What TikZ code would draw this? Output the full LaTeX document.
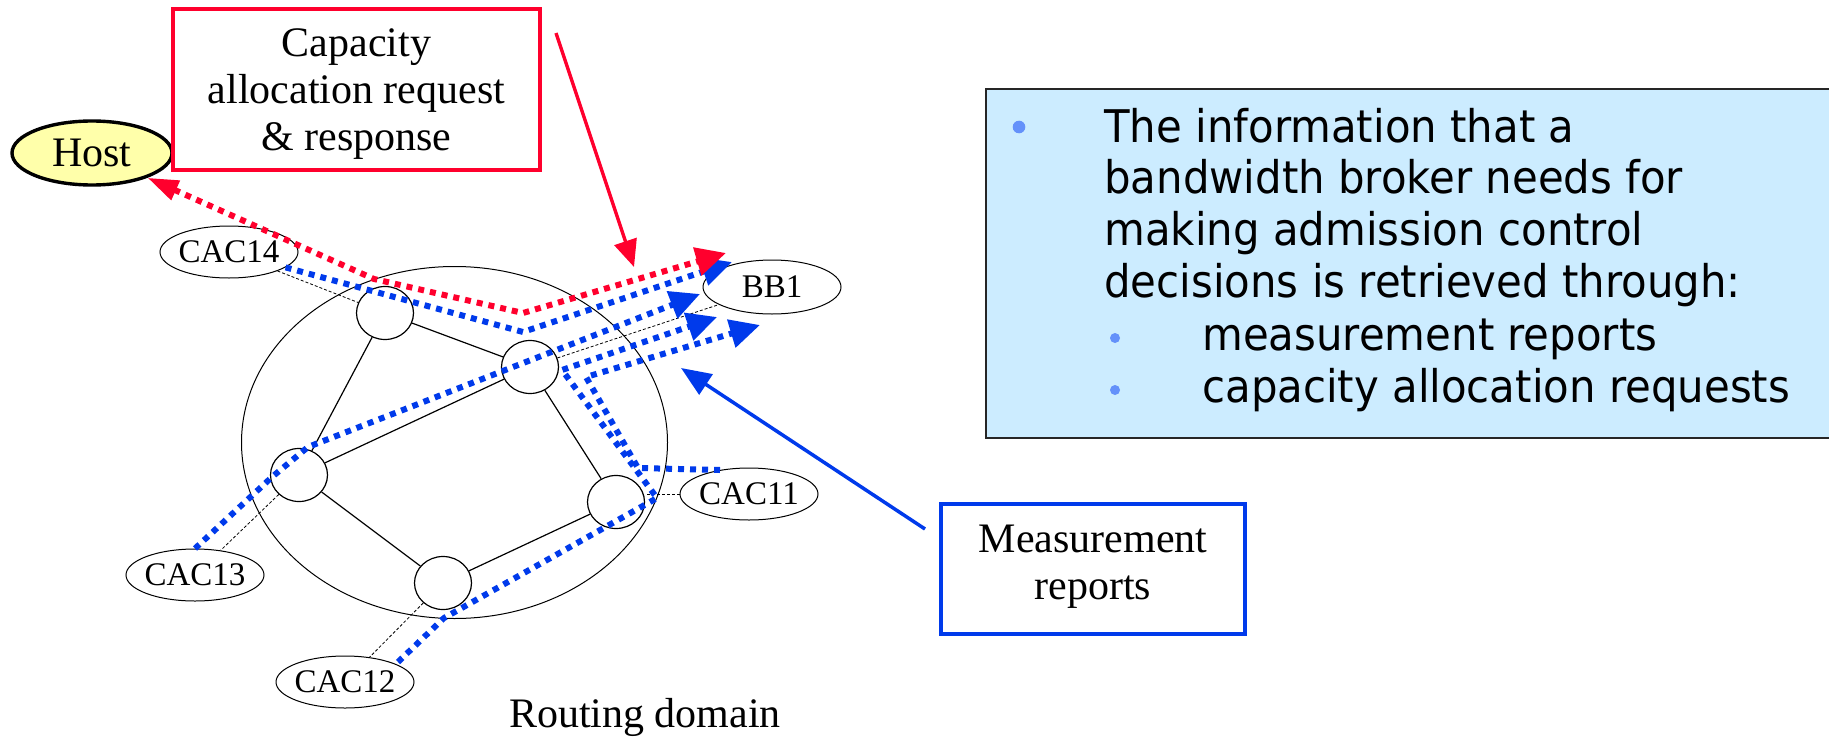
\documentclass[tikz,border=0pt]{standalone}
\usepackage{fontspec}
\setmainfont{Liberation Serif}
\newfontfamily\boxfont[FakeStretch=0.93]{DejaVu Sans}
\usetikzlibrary{arrows.meta,shapes.geometric}
\definecolor{myred}{RGB}{255,0,45}
\definecolor{myblue}{RGB}{0,58,235}
\definecolor{hostfill}{RGB}{255,255,170}
\definecolor{infofill}{RGB}{204,236,255}
\definecolor{bulletc}{RGB}{100,145,250}
\begin{document}
\begin{tikzpicture}[x=0.5pt,y=-0.5pt,
  big/.style={font=\fontsize{21pt}{23.5pt}\selectfont},
  small/.style={font=\fontsize{16.5pt}{18pt}\selectfont},
  cac/.style={ellipse,draw,line width=0.5pt,minimum width=69pt,minimum height=26pt,inner xsep=-4pt,inner ysep=0pt,small},
  router/.style={ellipse,draw,line width=0.6pt,minimum width=28.5pt,minimum height=26.5pt,inner sep=0pt},
  edge/.style={line width=0.6pt},
  link/.style={line width=0.4pt,dash pattern=on 1.5pt off 1pt},
  bdot/.style={myblue,line width=3pt,dash pattern=on 3pt off 3pt},
  rdot/.style={myred,line width=3pt,dash pattern=on 3pt off 3pt},
  btip/.style={-{Triangle[length=15pt,width=14pt]}},
  infotext/.style={font=\boxfont\fontsize{22.5pt}{26pt}\selectfont,anchor=base west,inner sep=0pt},
  bul/.style={circle,fill=bulletc,inner sep=0pt}
]
\useasboundingbox (0,0) rectangle (1829,738);

% info box (runs off the right edge)
\fill[infofill] (986,89) rectangle (1829,438);
\draw[line width=1.2pt,black!85] (1829,89) -- (986,89) -- (986,438) -- (1829,438);
\node[bul,minimum size=6.3pt] (bu1) at (1019,127) {};
\node[bul,minimum size=5pt] (bu2) at (1115,338) {};
\node[bul,minimum size=5pt] (bu3) at (1115,390) {};
\node[infotext] (l1) at (1104,142) {The information that a};
\node[infotext] (l2) at (1104,193) {bandwidth broker needs for};
\node[infotext] (l3) at (1104,245) {making admission control};
\node[infotext] (l4) at (1104,297) {decisions is retrieved through:};
\node[infotext] (l5) at (1202,350) {measurement reports};
\node[infotext] (l6) at (1202,402) {capacity allocation requests};

% routing domain
\node[ellipse,draw,line width=0.5pt,minimum width=213pt,minimum height=176pt] (domain) at (454.5,442.5) {};
\node[router] (A) at (385,313) {};
\node[router] (B) at (530,367) {};
\node[router] (C) at (299,475) {};
\node[router] (D) at (616,502) {};
\node[router] (E) at (443,583) {};
\draw[edge] (A) -- (B);
\draw[edge] (A) -- (C);
\draw[edge] (B) -- (C);
\draw[edge] (B) -- (D);
\draw[edge] (C) -- (E);
\draw[edge] (E) -- (D);

\node[cac] (cac14) at (229,252) {CAC14};
\node[cac] (cac13) at (195,575) {CAC13};
\node[cac] (cac12) at (345,682) {CAC12};
\node[cac] (cac11) at (749,494) {CAC11};
\node[cac,minimum height=27pt] (bb1) at (772,287) {BB1};
\node[big,anchor=base] (rd) at (645,727) {Routing domain};

\draw[link] (cac14) -- (A);
\draw[link] (B) -- (bb1);
\draw[link] (cac11.west) -- (D.east |- cac11.west);
\draw[link] (C) -- (cac13);
\draw[link] (E) -- (cac12);

% host
\node[ellipse,draw,line width=1.7pt,fill=hostfill,minimum width=80pt,minimum height=32pt,inner sep=0pt,big] (host) at (92,153) {Host};

% blue measurement paths
\coordinate (p1a) at (523,332);
\coordinate (p1t) at (732,262);
\draw[bdot,btip] (cac14) -- (p1a) -- (p1t);
\coordinate (p2a) at (272,477);
\coordinate (p2b) at (308,447);
\coordinate (p2t) at (700,294);
\draw[bdot,btip] (cac13.north) -- (p2a) -- (p2b) -- (p2t);
\coordinate (p3s) at (398,662);
\coordinate (p3a) at (444,618);
\coordinate (p3b) at (657,498);
\coordinate (p3c) at (562,370);
\coordinate (p3t) at (717,317);
\draw[bdot,btip] (p3s) -- (p3a) -- (p3b) -- (p3c) -- (p3t);
\coordinate (p4s) at (720,470);
\coordinate (p4a) at (638,468);
\coordinate (p4b) at (586,377);
\coordinate (p4t) at (760,325);
\draw[bdot,btip] (p4s) -- (p4a) -- (p4b) -- (p4t);

% red capacity allocation path
\coordinate (r1) at (374,279);
\coordinate (r2) at (523,313);
\coordinate (rt) at (726,253);
\draw[rdot,{Triangle[length=15.5pt,width=10pt]}-{Triangle[length=15pt,width=14pt]}] (host) -- (r1) -- (r2) -- (rt);

% callout boxes
\node[draw=myred,line width=2pt,minimum width=183.5pt,minimum height=80.5pt,inner sep=0pt] (capbox) at (356.5,89.5) {};
\node[big,align=center,inner sep=0pt] (captext) at (356.5,94) {Capacity\\allocation request\\\& response};
\coordinate (ra) at (556,33);
\coordinate (rb) at (634,267);
\draw[myred,line width=1.7pt,-{Triangle[length=13.5pt,width=11.5pt]}] (ra) -- (rb);

\node[draw=myblue,line width=2pt,minimum width=152pt,minimum height=65pt,inner sep=0pt] (mbox) at (1093,569) {};
\node[big,align=center,inner sep=0pt] (mtext) at (1093,566.5) {Measurement\\reports};
\coordinate (ms) at (925,529);
\coordinate (mt) at (681,368);
\draw[myblue,line width=1.75pt,-{Triangle[length=15pt,width=12pt]}] (ms) -- (mt);
\end{tikzpicture}
\end{document}
